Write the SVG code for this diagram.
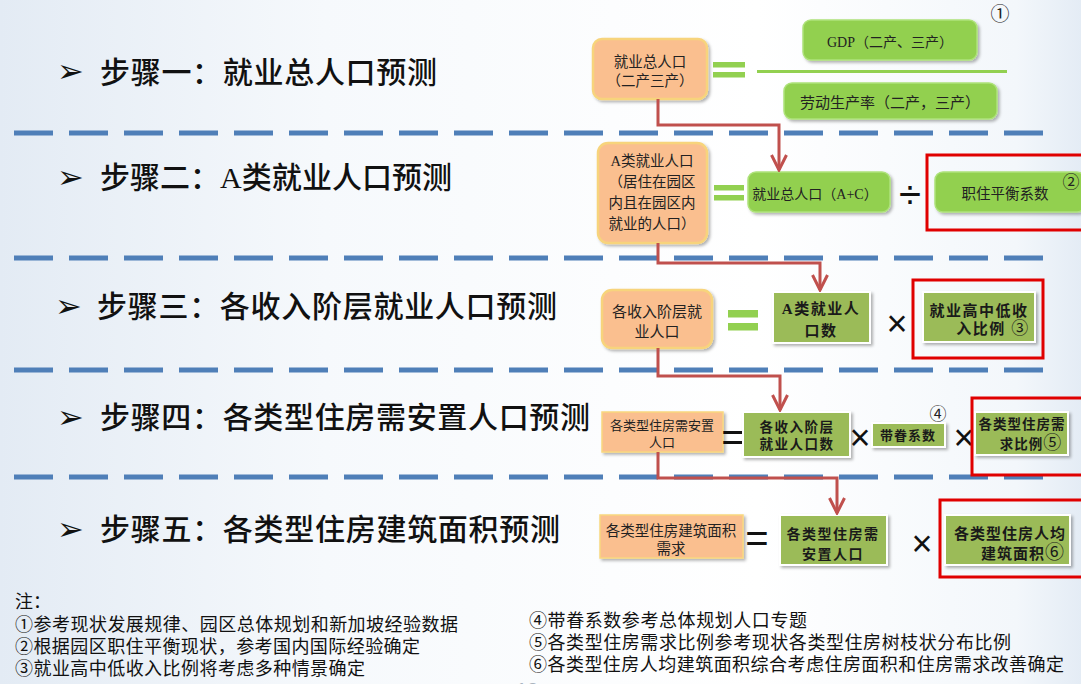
<svg xmlns="http://www.w3.org/2000/svg" width="1081" height="684" viewBox="0 0 1081 684">
<defs>
<linearGradient id="bg" x1="0" y1="0" x2="1" y2="0">
 <stop offset="0" stop-color="#e3ebf4"/>
 <stop offset="0.3" stop-color="#f6f9fc"/>
 <stop offset="0.7" stop-color="#ffffff"/>
 <stop offset="0.94" stop-color="#f3f7fb"/>
 <stop offset="1" stop-color="#e4ecf5"/>
</linearGradient>
<filter id="sh" x="-10%" y="-15%" width="130%" height="150%">
 <feDropShadow dx="2" dy="2" stdDeviation="1.5" flood-color="#000" flood-opacity="0.3"/>
</filter>
<marker id="arr" viewBox="0 0 12 12" refX="11" refY="6" markerWidth="18" markerHeight="18" markerUnits="userSpaceOnUse" orient="auto">
 <path d="M1,1 L11,6 L1,11" fill="none" stroke="#c0504d" stroke-width="2"/>
</marker>
<style>
 .title{font-family:"Liberation Serif","Noto Sans CJK SC",serif;font-size:30px;fill:#111;font-weight:500;}
 .bul{font-family:"DejaVu Sans",sans-serif;font-size:32px;fill:#111;}
 .dash{stroke:#4f7fb8;stroke-width:5;stroke-dasharray:39 16;fill:none;}
 .org{fill:#fabf8f;stroke:#f7d47c;stroke-width:2.5;}
 .org2{fill:#fabf8f;stroke:#f9d77f;stroke-width:1.5;}
 .g1{fill:#92d050;stroke:#aee27a;stroke-width:1.5;}
 .g2{fill:#9bbb59;stroke:#ffffff;stroke-width:2;}
 .red{fill:none;stroke:#e00000;stroke-width:3;}
 .t{font-family:"Liberation Serif","Noto Sans CJK SC",sans-serif;fill:#222;text-anchor:middle;}
 .tb{font-family:"Liberation Serif","Noto Sans CJK SC",sans-serif;fill:#1a1a1a;text-anchor:middle;font-weight:bold;}
 .op{font-family:"Liberation Sans",sans-serif;fill:#111;text-anchor:middle;}
 .num{font-family:"Noto Sans CJK SC",sans-serif;fill:#222;text-anchor:middle;}
 .eq{fill:#92d050;}
 .con{fill:none;stroke:#c0504d;stroke-width:3;}
 .note{font-family:"Noto Sans CJK SC",sans-serif;font-size:18px;fill:#111;}
</style>
</defs>
<rect x="0" y="0" width="1081" height="684" fill="url(#bg)"/>

<g id="separators">
 <line class="dash" x1="14" y1="133" x2="1043" y2="133"/>
 <line class="dash" x1="14" y1="258" x2="1043" y2="258"/>
 <line class="dash" x1="14" y1="370" x2="1043" y2="370"/>
 <line class="dash" x1="14" y1="477" x2="1043" y2="477"/>
</g>

<g id="step-titles">
 <text class="bul" x="57" y="82">➢</text>
 <text class="title" x="100" y="83" textLength="337" lengthAdjust="spacing">步骤一：就业总人口预测</text>
 <text class="bul" x="57" y="188">➢</text>
 <text class="title" x="100" y="188" textLength="352" lengthAdjust="spacing">步骤二：A类就业人口预测</text>
 <text class="bul" x="55" y="317">➢</text>
 <text class="title" x="97" y="317" textLength="460" lengthAdjust="spacing">步骤三：各收入阶层就业人口预测</text>
 <text class="bul" x="57" y="428">➢</text>
 <text class="title" x="100" y="428" textLength="490" lengthAdjust="spacing">步骤四：各类型住房需安置人口预测</text>
 <text class="bul" x="57" y="540">➢</text>
 <text class="title" x="100" y="540" textLength="460" lengthAdjust="spacing">步骤五：各类型住房建筑面积预测</text>
</g>

<!-- Step 1 -->
<g id="n-s1-total">
 <rect class="org" x="593" y="39" width="114" height="60" rx="9" filter="url(#sh)"/>
 <text class="t" x="650" y="66.5" font-size="14.5">就业总人口</text>
 <text class="t" x="650" y="85.5" font-size="14.5">（二产三产）</text>
</g>
<g id="op-s1-eq">
 <rect class="eq" x="713" y="62" width="32" height="5.5"/>
 <rect class="eq" x="713" y="72" width="32" height="5.5"/>
</g>
<g id="op-s1-frac">
 <line x1="757" y1="71.5" x2="1007" y2="71.5" stroke="#92d050" stroke-width="3"/>
</g>
<g id="n-s1-gdp">
 <rect class="g1" x="803" y="20" width="174" height="40" rx="8" filter="url(#sh)"/>
 <text class="t" x="890" y="47" font-size="14">GDP（二产、三产）</text>
</g>
<g id="n-s1-prod">
 <rect class="g1" x="784" y="83" width="213" height="36" rx="8" filter="url(#sh)"/>
 <text class="t" x="890" y="108" font-size="15">劳动生产率（二产，三产）</text>
</g>
<text class="num" x="1000" y="21" font-size="19">①</text>

<!-- Step 2 -->
<g id="n-s2-a">
 <rect class="org" x="598" y="143" width="109" height="100" rx="10" filter="url(#sh)"/>
 <text class="t" x="652" y="165.5" font-size="14.5">A类就业人口</text>
 <text class="t" x="652" y="186.5" font-size="14.5">（居住在园区</text>
 <text class="t" x="652" y="207.5" font-size="14.5">内且在园区内</text>
 <text class="t" x="652" y="228.5" font-size="14.5">就业的人口）</text>
</g>
<g id="op-s2-eq">
 <rect class="eq" x="714" y="185" width="30" height="5.5"/>
 <rect class="eq" x="714" y="195" width="30" height="5.5"/>
</g>
<g id="n-s2-total">
 <rect class="g1" x="748" y="172" width="142" height="40" rx="8" filter="url(#sh)"/>
 <text class="t" x="815" y="199" font-size="14">就业总人口（A+C）</text>
</g>
<text class="op" x="910" y="208" font-size="40">÷</text>
<g id="n-s2-ratio">
 <rect class="g1" x="935" y="172" width="150" height="40" rx="8" filter="url(#sh)"/>
 <text class="t" x="1005" y="199" font-size="14.5">职住平衡系数</text>
 <text class="num" x="1071" y="188" font-size="17">②</text>
</g>
<rect class="red" x="927" y="155" width="160" height="75"/>

<!-- Step 3 -->
<g id="n-s3-income">
 <rect class="org" x="602" y="290" width="110" height="58" rx="10" filter="url(#sh)"/>
 <text class="t" x="657" y="316.5" font-size="15">各收入阶层就</text>
 <text class="t" x="657" y="336.5" font-size="15">业人口</text>
</g>
<g id="op-s3-eq">
 <rect class="eq" x="728" y="310" width="30" height="7.5"/>
 <rect class="eq" x="728" y="323" width="30" height="7.5"/>
</g>
<g id="n-s3-a">
 <rect class="g2" x="773" y="292" width="97" height="51" filter="url(#sh)"/>
 <text class="tb" x="821" y="313.5" font-size="15" letter-spacing="1.5">A类就业人</text>
 <text class="tb" x="821" y="335.5" font-size="15" letter-spacing="1.5">口数</text>
</g>
<text class="op" x="897" y="336" font-size="36">×</text>
<g id="n-s3-ratio">
 <rect class="g2" x="923" y="292" width="112" height="50" filter="url(#sh)"/>
 <text class="tb" x="979" y="315.5" font-size="15" letter-spacing="1.5">就业高中低收</text>
 <text class="tb" x="993" y="333.5" font-size="15" letter-spacing="1.5">入比例 <tspan font-weight="normal" font-size="17">③</tspan></text>
</g>
<rect class="red" x="913" y="280" width="130" height="78"/>

<!-- Step 4 -->
<g id="n-s4-pop">
 <rect class="org2" x="602" y="412" width="121" height="40" filter="url(#sh)"/>
 <text class="t" x="662" y="430" font-size="13">各类型住房需安置</text>
 <text class="t" x="662" y="446.5" font-size="13">人口</text>
</g>
<text class="op" x="733" y="451" font-size="40">=</text>
<g id="n-s4-income">
 <rect class="g2" x="743" y="412" width="107" height="45" filter="url(#sh)"/>
 <text class="tb" x="797" y="432" font-size="13.5" letter-spacing="1.5">各收入阶层</text>
 <text class="tb" x="797" y="448.5" font-size="13.5" letter-spacing="1.5">就业人口数</text>
</g>
<text class="op" x="860" y="450" font-size="36">×</text>
<g id="n-s4-dep">
 <rect class="g2" x="872" y="423" width="73" height="24" filter="url(#sh)"/>
 <text class="tb" x="908" y="440" font-size="13" letter-spacing="1">带眷系数</text>
</g>
<text class="num" x="938" y="420" font-size="17">④</text>
<text class="op" x="964" y="450" font-size="36">×</text>
<g id="n-s4-ratio">
 <rect class="g2" x="975" y="412" width="93" height="43" filter="url(#sh)"/>
 <text class="tb" x="1022" y="428.5" font-size="13.5" letter-spacing="1">各类型住房需</text>
 <text class="tb" x="1031" y="448.5" font-size="13.5" letter-spacing="1">求比例<tspan font-weight="normal" font-size="18">⑤</tspan></text>
</g>
<rect class="red" x="972" y="398" width="115" height="77"/>

<!-- Step 5 -->
<g id="n-s5-area">
 <rect class="org2" x="600" y="515" width="143" height="43" filter="url(#sh)"/>
 <text class="t" x="671" y="535.5" font-size="14.5">各类型住房建筑面积</text>
 <text class="t" x="671" y="553.5" font-size="14.5">需求</text>
</g>
<text class="op" x="757" y="552" font-size="40">=</text>
<g id="n-s5-pop">
 <rect class="g2" x="780" y="515" width="107" height="50" filter="url(#sh)"/>
 <text class="tb" x="833" y="538.5" font-size="14" letter-spacing="1.5">各类型住房需</text>
 <text class="tb" x="833" y="558.5" font-size="14" letter-spacing="1.5">安置人口</text>
</g>
<text class="op" x="922" y="556" font-size="36">×</text>
<g id="n-s5-per">
 <rect class="g2" x="945" y="515" width="125" height="50" filter="url(#sh)"/>
 <text class="tb" x="1010" y="538.5" font-size="15" letter-spacing="1">各类型住房人均</text>
 <text class="tb" x="1023" y="559" font-size="15" letter-spacing="1">建筑面积<tspan font-weight="normal" font-size="19">⑥</tspan></text>
</g>
<rect class="red" x="940" y="500" width="145" height="77"/>

<g id="connectors">
 <path class="con" d="M658,99 V125 H779 V170" marker-end="url(#arr)"/>
 <path class="con" d="M658,243 V263 H820 V290" marker-end="url(#arr)"/>
 <path class="con" d="M658,348 V376 H780 V410" marker-end="url(#arr)"/>
 <path class="con" d="M658,452 V478 H837 V513" marker-end="url(#arr)"/>
</g>

<g id="notes">
 <text class="note" x="15" y="608">注：</text>
 <text class="note" x="15" y="631" textLength="443" lengthAdjust="spacing">①参考现状发展规律、园区总体规划和新加坡经验数据</text>
 <text class="note" x="15" y="653" textLength="405" lengthAdjust="spacing">②根据园区职住平衡现状，参考国内国际经验确定</text>
 <text class="note" x="15" y="675" textLength="350" lengthAdjust="spacing">③就业高中低收入比例将考虑多种情景确定</text>
 <text class="note" x="529" y="627" textLength="278" lengthAdjust="spacing">④带眷系数参考总体规划人口专题</text>
 <text class="note" x="529" y="649" textLength="482" lengthAdjust="spacing">⑤各类型住房需求比例参考现状各类型住房树枝状分布比例</text>
 <text class="note" x="529" y="671" textLength="535" lengthAdjust="spacing">⑥各类型住房人均建筑面积综合考虑住房面积和住房需求改善确定</text>
 <text x="516" y="697" font-family="Liberation Sans, sans-serif" font-size="20" fill="#aab4be">12</text>
</g>
</svg>
